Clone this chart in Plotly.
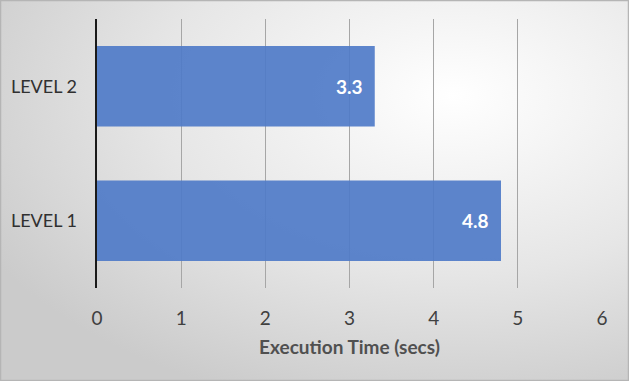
import base64
import plotly.graph_objects as go

categories = ["LEVEL 1", "LEVEL 2"]
values = [4.8, 3.3]
x_ticks = [0, 1, 2, 3, 4, 5, 6]

W, H = 629, 381
ml, mr, mt, mb = 97, 27, 19, 93
pw, ph = W - ml - mr, H - mt - mb
FONT = "Lato, sans-serif"

svg = (
    f'<svg xmlns="http://www.w3.org/2000/svg" width="{W}" height="{H}" preserveAspectRatio="none">'
    '<defs><radialGradient id="g" cx="0.72" cy="0.25" r="0.85">'
    '<stop offset="0" stop-color="#ffffff"/><stop offset="0.55" stop-color="#e6e6e6"/>'
    '<stop offset="1" stop-color="#cbcbcb"/></radialGradient></defs>'
    f'<rect width="{W}" height="{H}" fill="url(#g)"/>'
    f'<rect x="0.5" y="0.5" width="{W-1}" height="{H-1}" fill="none" stroke="#b5b5b5" stroke-width="1.5"/>'
    '</svg>'
)
src = "data:image/svg+xml;base64," + base64.b64encode(svg.encode()).decode()

fig = go.Figure()
fig.add_trace(go.Bar(
    y=categories, x=values, orientation="h",
    marker=dict(color="#4f7bc8", opacity=0.92, line=dict(width=0)),
    width=0.6, hoverinfo="skip",
))

for c, v in zip(categories, values):
    fig.add_annotation(
        x=v, y=c, xref="x", yref="y", text=f"<b>{v}</b>", showarrow=False,
        xanchor="right", xshift=-10, font=dict(family=FONT, size=19, color="white"),
    )

fig.add_layout_image(dict(
    source=src, xref="paper", yref="paper",
    x=-ml / pw, y=1 + mt / ph, sizex=W / pw, sizey=H / ph,
    sizing="stretch", xanchor="left", yanchor="top", layer="below",
))

fig.update_layout(
    width=W, height=H,
    margin=dict(l=ml, r=mr, t=mt, b=mb),
    paper_bgcolor="#d9d9d9", plot_bgcolor="rgba(0,0,0,0)",
    showlegend=False,
    font=dict(family=FONT, size=18, color="#404040"),
    bargap=0.4,
)
fig.update_xaxes(
    range=[0, 6], tickvals=x_ticks, showgrid=True, gridcolor="#a6a6a6", gridwidth=1,
    zeroline=False, showline=False, ticks="", ticklabelstandoff=17,
    tickfont=dict(size=19, color="#404040"), automargin=False,
    title=dict(text="<b>Execution Time (secs)</b>", font=dict(size=19, color="#505050"), standoff=12),
    fixedrange=True,
)
fig.update_yaxes(
    showline=True, linecolor="#1a1a1a", linewidth=2.5, showgrid=False,
    ticks="", ticklabelstandoff=14, tickfont=dict(size=18, color="#303030"),
    automargin=False, fixedrange=True,
)

fig.write_html(
    "out.html",
    config={"displayModeBar": False, "staticPlot": True},
    post_script="document.body.style.margin='0';document.body.style.padding='0';",
)
